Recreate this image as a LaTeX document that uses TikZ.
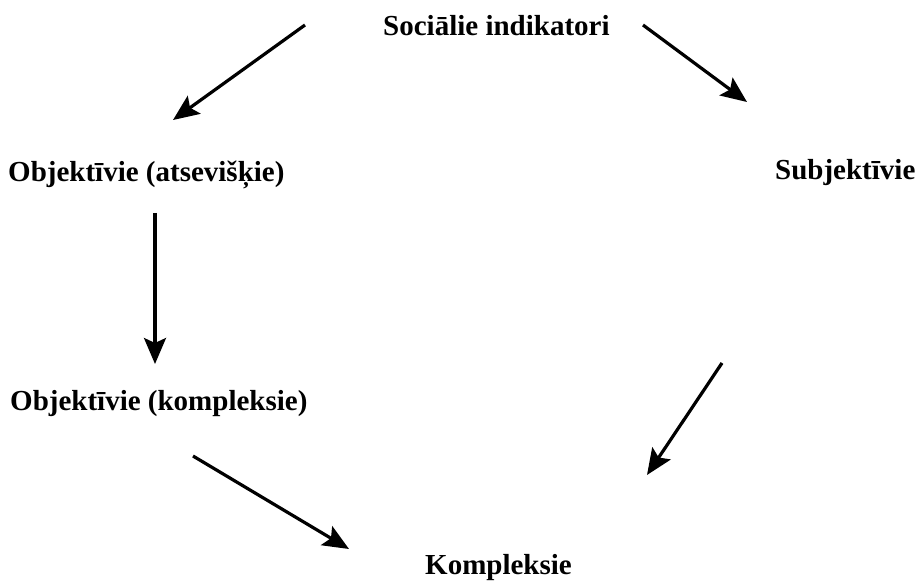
\documentclass[tikz,border=0pt]{standalone}
\usepackage{fontspec}
\setmainfont{Liberation Serif}
\usetikzlibrary{arrows.meta}

\begin{document}
\begin{tikzpicture}[x=1pt,y=-1pt,
    lbl/.style={inner sep=0pt,anchor=base west,font=\fontsize{29}{34}\selectfont\bfseries},
    arr/.style={black,line width=3.2pt,-{Stealth[length=26pt,width=22pt,inset=5pt]}}]
    \useasboundingbox (0,0) rectangle (919,583);
    \node [lbl] (soc) at (383,36) {Sociālie indikatori};
    \node [lbl] (ats) at (8,182) {Objektīvie (atsevišķie)};
    \node [lbl] (sub) at (775,180) {Subjektīvie};
    \node [lbl] (okm) at (10,410) {Objektīvie (kompleksie)};
    \node [lbl] (kom) at (425,574) {Kompleksie};
    \coordinate (a1) at (305,25);
    \coordinate (b1) at (173,120);
    \coordinate (a2) at (643,25);
    \coordinate (b2) at (747,102);
    \coordinate (a3) at (155,213);
    \coordinate (b3) at (155,364);
    \coordinate (a4) at (722,363);
    \coordinate (b4) at (647,475);
    \coordinate (a5) at (193,456);
    \coordinate (b5) at (349,549);
    \draw [arr] (a1) -- (b1);
    \draw [arr] (a2) -- (b2);
    \draw [arr] (a3) -- (b3);
    \draw [arr] (a4) -- (b4);
    \draw [arr] (a5) -- (b5);
\end{tikzpicture}
\end{document}
